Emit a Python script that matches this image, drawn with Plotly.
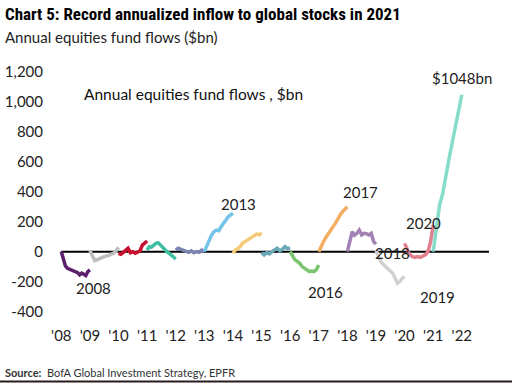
import plotly.graph_objects as go

years = [2008, 2009, 2010, 2011, 2012, 2013, 2014, 2015, 2016, 2017, 2018, 2019, 2020, 2021]
colors = ["#5B1F6A", "#BDBDBD", "#C8102E", "#3DBFA0", "#7B86B0", "#74C3E8", "#F5CB78",
          "#6BA8B8", "#7CC46E", "#F2AE62", "#A381B5", "#D0D0D0", "#E07F8E", "#86DCCB"]

flows_2008 = [0, -55, -96, -111, -118, -120, -127, -133, -140, -155, -144, -151, -160, -133, -122]
flows_2009 = [7, -30, -60, -55, -44, -40, -33, -30, -25, -16, -10, 5, 29]
flows_2010 = [-11, -18, -5, 7, 22, -7, 0, -11, -5, 5, 44, 60, 71]
flows_2011 = [11, 33, 30, 44, 55, 60, 44, 33, 10, 0, -11, -25, -33, -49]
flows_2012 = [11, 22, 15, 10, 0, -5, 5, -8, 0, -5, 10, 0]
flows_2013 = [0, 40, 78, 110, 133, 144, 140, 170, 189, 210, 233, 245, 256]
flows_2014 = [-11, 11, 20, 33, 55, 65, 78, 90, 100, 110, 118, 111, 127]
flows_2015 = [-7, -22, -5, -15, 0, 10, 22, 5, 15, 33, 20, 25]
flows_2016 = [0, -33, -55, -65, -78, -100, -110, -122, -133, -130, -133, -120, -89]
flows_2017 = [0, 40, 67, 95, 122, 145, 167, 190, 222, 245, 267, 285, 300]
flows_2018 = [0, 78, 133, 110, 122, 144, 111, 122, 120, 111, 122, 67, 50]
flows_2019 = [11, -33, -67, -85, -100, -111, -130, -144, -178, -211, -200, -178, -167]
flows_2020 = [55, 22, -22, -33, -38, -33, -38, -30, -22, 0, 67, 178]
flows_2021 = [0, 150, 310, 389, 522, 622, 730, 835, 950, 1048]

all_flows = [flows_2008, flows_2009, flows_2010, flows_2011, flows_2012, flows_2013, flows_2014,
             flows_2015, flows_2016, flows_2017, flows_2018, flows_2019, flows_2020, flows_2021]

x_tickvals = list(range(2008, 2023))
x_ticktext = ["'08", "'09", "'10", "'11", "'12", "'13", "'14", "'15", "'16", "'17", "'18", "'19", "'20", "'21", "'22"]
y_tickvals = [1200, 1000, 800, 600, 400, 200, 0, -200, -400]
y_ticktext = ["1,200", "1,000", "800", "600", "400", "200", "0", "-200", "-400"]

labels = ["2008", "2013", "2016", "2017", "2018", "2019", "2020", "$1048bn"]
label_x = [2009.13, 2014.21, 2017.25, 2018.47, 2019.58, 2021.15, 2020.65, 2021.99]
label_y = [-244, 317, -267, 396, -11, -300, 193, 1163]

FONT = "Lato, 'Open Sans', sans-serif"

fig = go.Figure()
fig.add_trace(go.Scatter(x=[2008, 2022.95], y=[0, 0], mode="lines",
                         line=dict(color="black", width=2), hoverinfo="skip"))
for yr, vals, col in zip(years, all_flows, colors):
    n = len(vals)
    xs = [yr + i / (n - 1) for i in range(n)]
    fig.add_trace(go.Scatter(x=xs, y=vals, mode="lines", line=dict(color=col, width=3.5)))

for t, lx, ly in zip(labels, label_x, label_y):
    fig.add_annotation(x=lx, y=ly, text=t, showarrow=False, xanchor="center", yanchor="middle",
                       font=dict(size=15, color="#222", family=FONT))

fig.add_annotation(x=2008.72, y=1056, text="Annual equities fund flows , $bn", showarrow=False,
                   xanchor="left", yanchor="middle", font=dict(size=15.5, color="#111", family=FONT))

W, H = 512, 383
ml, mr, mt, mb = 47, 13, 57, 64
pw, ph = W - ml - mr, H - mt - mb

def px(x):
    return (x - ml) / pw

def py(y):
    return (H - mb - y) / ph

fig.add_annotation(xref="paper", yref="paper", x=px(3), y=py(14), xanchor="left", yanchor="middle",
                   text="<b>Chart 5: Record annualized inflow to global stocks in 2021</b>", showarrow=False,
                   font=dict(size=17, color="#000", family="'Liberation Sans Narrow', 'Roboto Condensed', Roboto, sans-serif"))
fig.add_annotation(xref="paper", yref="paper", x=px(3), y=py(37), xanchor="left", yanchor="middle",
                   text="Annual equities fund flows ($bn)", showarrow=False,
                   font=dict(size=15, color="#222", family=FONT))
fig.add_annotation(xref="paper", yref="paper", x=px(3), y=py(372), xanchor="left", yanchor="middle",
                   text="<b>Source:</b>  BofA Global Investment Strategy, EPFR", showarrow=False,
                   font=dict(size=11, color="#333", family=FONT))
fig.add_shape(type="line", xref="paper", yref="paper", x0=px(0), x1=px(W), y0=py(381.5), y1=py(381.5),
              line=dict(color="#2a1a1a", width=2))

fig.update_layout(
    width=W, height=H, margin=dict(l=ml, r=mr, t=mt, b=mb, autoexpand=False),
    paper_bgcolor="white", plot_bgcolor="white", showlegend=False,
    xaxis=dict(range=[2007.5, 2023.3], tickvals=x_tickvals, ticktext=x_ticktext, showgrid=False,
               zeroline=False, showline=False, ticks="", automargin=False,
               tickfont=dict(size=15, color="#222", family=FONT), ticklabelstandoff=6),
    yaxis=dict(range=[-450, 1300], tickvals=y_tickvals, ticktext=y_ticktext, showgrid=False,
               zeroline=False, showline=False, ticks="", automargin=False,
               tickfont=dict(size=15, color="#222", family=FONT), ticklabelstandoff=3),
)
fig.write_html("out.html", config={"displayModeBar": False},
               post_script="document.body.style.margin='0';")
